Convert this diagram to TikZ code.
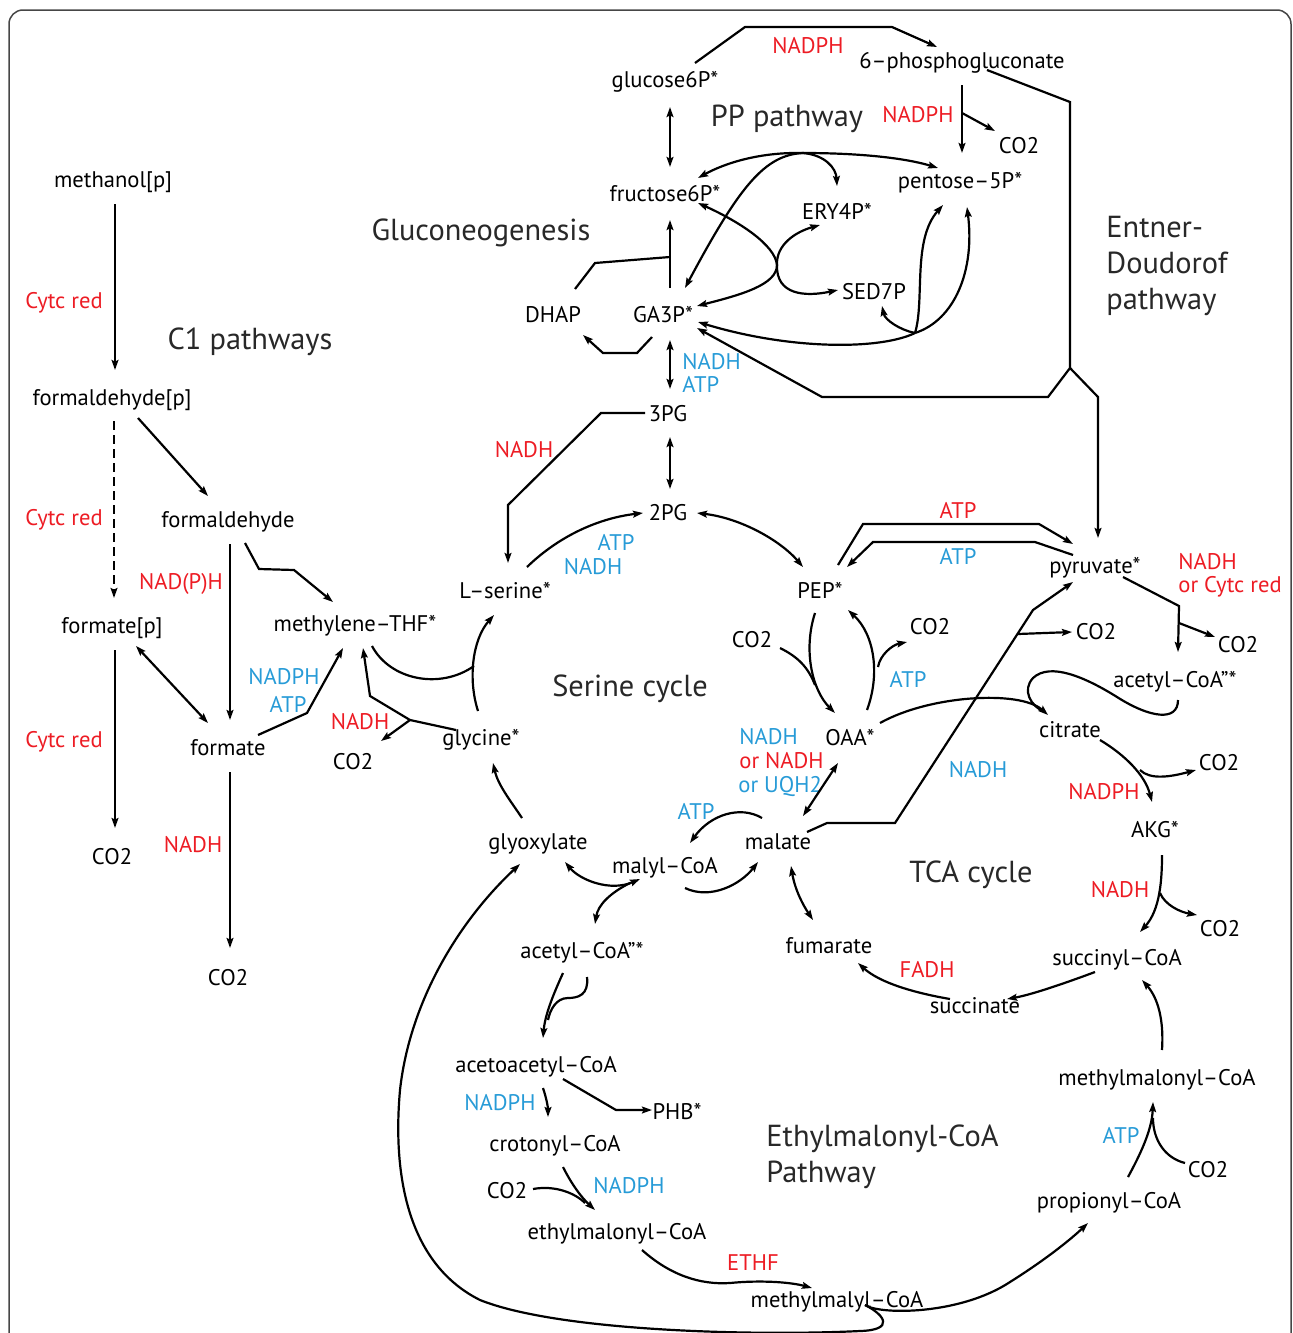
\documentclass[tikz,border=0pt]{standalone}
\usepackage{fontspec}
\setmainfont{PT Sans}
\usetikzlibrary{arrows.meta}
\definecolor{redc}{RGB}{237,28,36}
\definecolor{bluec}{RGB}{39,155,215}
\definecolor{bigc}{RGB}{40,40,40}
\definecolor{framec}{RGB}{70,70,70}
\begin{document}
\begin{tikzpicture}[x=0.5pt,y=-0.5pt,
  met/.style={inner sep=0pt, anchor=base, font=\fontsize{11.3}{13}\selectfont},
  rl/.style={met, text=redc},
  bl/.style={met, text=bluec},
  big/.style={inner sep=0pt, anchor=base, text=bigc, font=\fontsize{15.2}{18}\selectfont},
  con/.style={line width=1.1pt},
  arr/.style={con, -{Stealth[length=5pt,width=3.4pt,inset=0.8pt]}},
  darr/.style={con, {Stealth[length=5pt,width=3.4pt,inset=0.8pt]}-{Stealth[length=5pt,width=3.4pt,inset=0.8pt]}},
]
\useasboundingbox (0,0) rectangle (1293,1333);
\clip (0,0) rectangle (1293,1333);
\draw[framec, line width=0.75pt, rounded corners=7] (9,1400) -- (9,10) -- (1291,10) -- (1291,1400);

% ---------- metabolites ----------
\node[met] (methanol) at (113,187) {methanol[p]};
\node[met] (fap) at (112,405) {formaldehyde[p]};
\node[met] (fa) at (228,527) {formaldehyde};
\node[met] (fmp) at (112,633) {formate[p]};
\node[met] (mthf) at (355,631) {methylene–THF*};
\node[met] (fm) at (228,755) {formate};
\node[met] (co2a) at (112,864) {CO2};
\node[met] (co2b) at (228,985) {CO2};
\node[met] (co2c) at (353,769) {CO2};
\node[met] (gly) at (481,745) {glycine*};
\node[met] (ser) at (505,598) {L–serine*};
\node[met] (g6p) at (665,87) {glucose6P*};
\node[met] (pg6) at (962,68) {6–phosphogluconate};
\node[met] (co2d) at (1019,153) {CO2};
\node[met] (f6p) at (665,201) {fructose6P*};
\node[met] (p5p) at (960,188) {pentose–5P*};
\node[met] (e4p) at (837,219) {ERY4P*};
\node[met] (s7p) at (874,299) {SED7P};
\node[met] (dhap) at (553,322) {DHAP};
\node[met] (ga3p) at (663,322) {GA3P*};
\node[met] (pg3) at (668,421) {3PG};
\node[met] (pg2) at (668,520) {2PG};
\node[met] (pep) at (820,598) {PEP*};
\node[met] (pyr) at (1095,573) {pyruvate*};
\node[met] (co2e) at (752,647) {CO2};
\node[met] (co2f) at (930,634) {CO2};
\node[met] (co2g) at (1096,639) {CO2};
\node[met] (co2h) at (1238,652) {CO2};
\node[met] (accoaA) at (1175,687) {acetyl–CoA\char34*};
\node[met] (oaa) at (850,745) {OAA*};
\node[met] (cit) at (1070,737) {citrate};
\node[met] (co2i) at (1219,770) {CO2};
\node[met] (akg) at (1155,837) {AKG*};
\node[met] (mal) at (778,849) {malate};
\node[met] (glx) at (538,849) {glyoxylate};
\node[met] (malcoa) at (665,873) {malyl–CoA};
\node[met] (co2j) at (1220,936) {CO2};
\node[met] (fum) at (829,953) {fumarate};
\node[met] (accoaB) at (582,958) {acetyl–CoA\char34*};
\node[met] (succoa) at (1117,965) {succinyl–CoA};
\node[met] (suc) at (975,1013) {succinate};
\node[met] (aacoa) at (536,1072) {acetoacetyl–CoA};
\node[met] (mmcoa) at (1157,1085) {methylmalonyl–CoA};
\node[met] (phb) at (677,1119) {PHB*};
\node[met] (crot) at (555,1151) {crotonyl–CoA};
\node[met] (co2k) at (1208,1177) {CO2};
\node[met] (co2l) at (507,1198) {CO2};
\node[met] (prop) at (1109,1208) {propionyl–CoA};
\node[met] (emcoa) at (617,1239) {ethylmalonyl–CoA};
\node[met] (mmlcoa) at (837,1307) {methylmalyl–CoA};

% ---------- cofactors ----------
\node[rl] (r1) at (808,54) {NADPH};
\node[rl] (r2) at (918,122) {NADPH};
\node[rl] (r3) at (64,308) {Cytc red};
\node[rl] (r4) at (64,525) {Cytc red};
\node[rl] (r5) at (181,589) {NAD(P)H};
\node[rl] (r6) at (64,747) {Cytc red};
\node[rl] (r7) at (193,852) {NADH};
\node[rl] (r8) at (524,457) {NADH};
\node[rl] (r9) at (360,729) {NADH};
\node[rl] (r10) at (958,518) {ATP};
\node[rl, anchor=base west] (r11) at (1178,569) {NADH};
\node[rl, anchor=base west] (r12) at (1178,592) {or Cytc red};
\node[rl, anchor=base west] (r13) at (739,768) {or NADH};
\node[rl] (r14) at (1104,799) {NADPH};
\node[rl] (r15) at (1120,897) {NADH};
\node[rl] (r16) at (927,977) {FADH};
\node[rl] (r17) at (753,1270) {ETHF};

\node[bl, anchor=base west] (b1) at (682,369) {NADH};
\node[bl, anchor=base west] (b2) at (682,392) {ATP};
\node[bl] (b3) at (616,550) {ATP};
\node[bl] (b4) at (593,574) {NADH};
\node[bl] (b5) at (958,564) {ATP};
\node[bl] (b6) at (908,687) {ATP};
\node[bl] (b7) at (284,684) {NADPH};
\node[bl] (b8) at (288,712) {ATP};
\node[bl, anchor=base west] (b9) at (739,744) {NADH};
\node[bl, anchor=base west] (b10) at (738,792) {or UQH2};
\node[bl] (b11) at (696,819) {ATP};
\node[bl] (b12) at (978,777) {NADH};
\node[bl] (b13) at (500,1110) {NADPH};
\node[bl] (b14) at (629,1193) {NADPH};
\node[bl] (b15) at (1121,1143) {ATP};

% ---------- pathway titles ----------
\node[big] (tpp) at (787,126) {PP pathway};
\node[big] (tgl) at (481,240) {Gluconeogenesis};
\node[big] (tc1) at (250,349) {C1 pathways};
\node[big] (tser) at (630,696) {Serine cycle};
\node[big] (ttca) at (971,882) {TCA cycle};
\node[big, anchor=base west] (ted1) at (1106,237) {Entner-};
\node[big, anchor=base west] (ted2) at (1106,273) {Doudorof};
\node[big, anchor=base west] (ted3) at (1106,309) {pathway};
\node[big, anchor=base west] (tem1) at (766,1146) {Ethylmalonyl-CoA};
\node[big, anchor=base west] (tem2) at (766,1182) {Pathway};

% ---------- C1 pathways ----------
\draw[arr] (115,204) -- (115,370);
\draw[arr, dash pattern=on 4.5pt off 2.5pt] (114,421) -- (114,598);
\draw[arr] (138,418) -- (208,496);
\draw[arr] (230,544) -- (230,720);
\draw[arr] (245,543) -- (259,569) -- (294,570) -- (333,602);
\draw[darr] (136,646) -- (208,723);
\draw[arr] (115,650) -- (115,828);
\draw[arr] (230,772) -- (230,948);
\draw[arr] (258,735) -- (307,713) -- (343,648);
\coordinate (gj) at (410,720);
\draw[arr] (456,730) -- (gj) -- (370,696) -- (363,648);
\draw[arr] (gj) -- (381,741);
\draw[con] (372,646) .. controls (390,680) and (440,690) .. (474,666);
\draw[arr] (478,711) .. controls (468,680) and (472,640) .. (494,615);

% ---------- serine cycle ----------
\draw[arr] (645,413) -- (601,413) -- (508,505) -- (508,563);
\draw[darr] (670,437) -- (670,489);
\draw[arr] (527,567) .. controls (560,535) and (600,518) .. (643,513);
\draw[darr] (697,513) .. controls (740,518) and (780,540) .. (803,567);
\draw[arr] (522,818) .. controls (510,800) and (498,785) .. (493,763);
\draw[arr] (762,818) .. controls (740,805) and (710,815) .. (690,843);
\draw[arr] (685,888) .. controls (710,900) and (740,885) .. (758,862);
\draw[darr] (565,862) .. controls (580,880) and (610,892) .. (640,879);
\draw[arr] (630,883) .. controls (610,893) and (598,905) .. (595,924);
\draw[darr] (838,763) -- (803,816);

% ---------- gluconeogenesis / PP ----------
\draw[darr] (670,107) -- (670,167);
\draw[arr] (670,288) -- (670,220);
\draw[con] (575,289) -- (595,263) -- (670,257);
\draw[arr] (652,337) -- (637,353) -- (603,353) -- (583,335);
\draw[darr] (670,340) -- (670,389);
\draw[arr] (695,63) -- (745,27) -- (892,27) -- (937,47);
\draw[arr] (962,85) -- (962,153);
\draw[arr] (962,113) -- (995,131);
\coordinate (edj) at (1070,368);
\draw[con] (987,70) -- (1070,102) -- (edj);
\draw[arr] (edj) -- (1098,397) -- (1098,538);
\draw[arr] (edj) -- (1048,397) -- (822,397) -- (697,328);

\coordinate (ppt) at (803,153);
\draw[arr] (ppt) .. controls (760,152) and (725,163) .. (698,178);
\draw[arr] (ppt) .. controls (860,153) and (905,158) .. (938,168);
\draw[arr] (ppt) .. controls (825,155) and (836,168) .. (837,186);
\draw[arr] (ppt) .. controls (765,155) and (740,185) .. (685,288);

\coordinate (cx) at (777,265);
\draw[arr] (cx) .. controls (775,245) and (740,222) .. (698,203);
\draw[arr] (cx) .. controls (777,285) and (740,295) .. (697,306);
\draw[arr] (cx) .. controls (776,245) and (795,232) .. (820,225);
\draw[arr] (cx) .. controls (776,295) and (805,297) .. (838,290);

\coordinate (px) at (915,333);
\draw[arr] (px) .. controls (880,350) and (790,350) .. (698,322);
\draw[arr] (px) .. controls (900,330) and (885,320) .. (882,306);
\draw[arr] (px) .. controls (925,300) and (912,240) .. (943,205);
\draw[arr] (px) .. controls (955,320) and (975,270) .. (967,207);

% ---------- PEP / pyruvate / TCA ----------
\draw[arr] (838,565) -- (863,524) -- (1039,524) -- (1073,544);
\draw[arr] (1073,555) -- (1035,542) -- (873,542) -- (847,567);
\draw[arr] (807,832) -- (827,823) -- (895,823) -- (1033,610) -- (1073,582);
\draw[arr] (1018,634) -- (1072,632);
\draw[arr] (1123,577) -- (1179,606) -- (1178,652);
\draw[arr] (1179,623) -- (1215,637);
\draw[arr] (815,613) .. controls (803,650) and (812,690) .. (835,713);
\draw[con] (780,648) .. controls (798,657) and (808,667) .. (815,685);
\draw[arr] (867,710) .. controls (880,675) and (875,635) .. (848,610);
\draw[arr] (878,667) .. controls (880,655) and (892,645) .. (907,642);
\draw[arr] (880,723) .. controls (930,695) and (1020,690) .. (1048,715);
\draw[con] (1178,700) .. controls (1178,722) and (1150,718) .. (1117,697) .. controls (1085,677) and (1050,662) .. (1033,678) .. controls (1022,690) and (1030,706) .. (1045,712);
\draw[arr] (1100,740) .. controls (1125,755) and (1145,775) .. (1152,802);
\draw[arr] (1140,770) .. controls (1150,780) and (1170,777) .. (1196,770);
\draw[arr] (1162,855) .. controls (1162,880) and (1160,910) .. (1140,932);
\draw[arr] (1160,893) .. controls (1165,905) and (1180,912) .. (1197,915);
\draw[arr] (1095,972) .. controls (1060,985) and (1030,995) .. (1007,999);
\draw[arr] (950,999) .. controls (915,993) and (880,983) .. (858,963);
\draw[darr] (791,866) .. controls (795,890) and (803,905) .. (813,920);

% ---------- ethylmalonyl-CoA pathway ----------
\draw[arr] (563,973) .. controls (553,995) and (545,1015) .. (543,1038);
\draw[con] (587,977) .. controls (589,995) and (578,998) .. (568,998) .. controls (556,998) and (550,1010) .. (548,1020);
\draw[arr] (543,1088) .. controls (547,1100) and (548,1108) .. (548,1117);
\draw[arr] (563,1079) -- (616,1110) -- (652,1110);
\draw[arr] (563,1167) .. controls (572,1185) and (582,1198) .. (595,1210);
\draw[con] (533,1189) .. controls (555,1185) and (575,1193) .. (585,1203);
\draw[arr] (642,1250) .. controls (670,1275) and (700,1285) .. (730,1283) .. controls (760,1280) and (790,1282) .. (812,1288);
\coordinate (mh) at (865,1305);
\draw[arr] (mh) .. controls (880,1315) and (960,1315) .. (1010,1282) .. controls (1045,1260) and (1070,1240) .. (1088,1223);
\draw[arr] (mh) .. controls (885,1315) and (895,1330) .. (860,1331) .. controls (760,1336) and (560,1332) .. (480,1300) .. controls (410,1265) and (392,1180) .. (400,1090) .. controls (410,1000) and (460,920) .. (520,864);
\draw[arr] (1128,1177) .. controls (1140,1155) and (1152,1130) .. (1153,1102);
\draw[con] (1185,1163) .. controls (1165,1158) and (1153,1140) .. (1153,1118);
\draw[arr] (1162,1050) .. controls (1164,1020) and (1158,998) .. (1142,980);
\end{tikzpicture}
\end{document}
